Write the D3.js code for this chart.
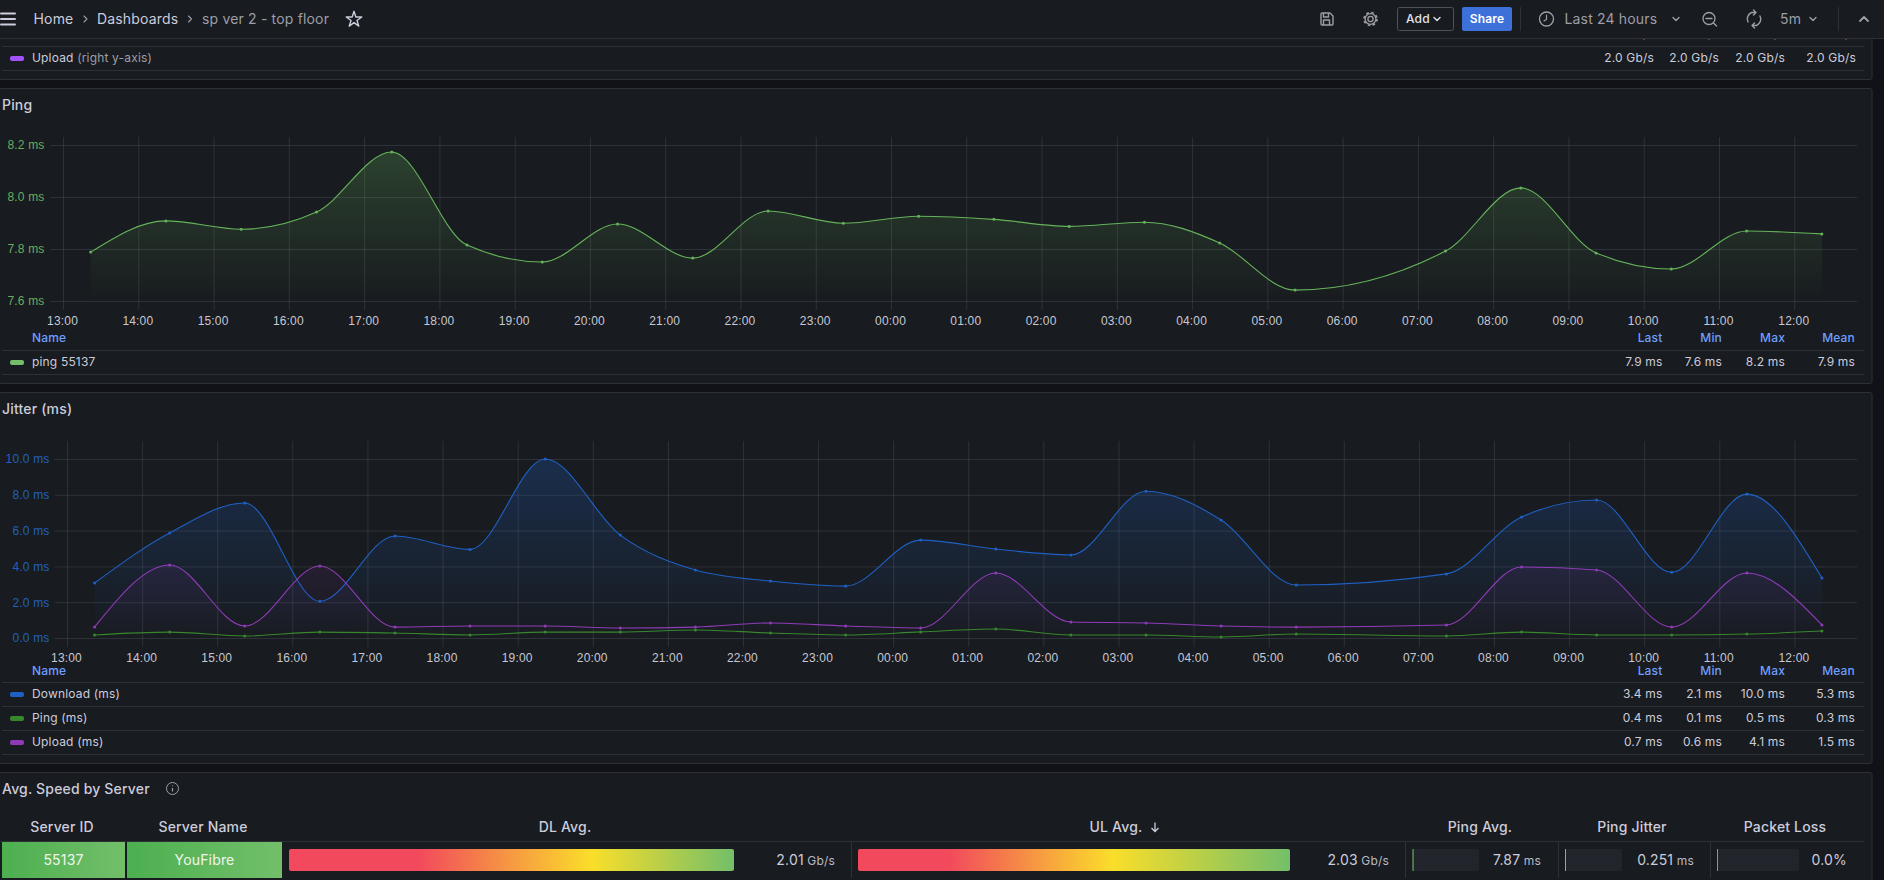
<!DOCTYPE html>
<html>
<head>
<meta charset="utf-8">
<title>sp ver 2 - top floor</title>
<script src="https://cdn.jsdelivr.net/npm/d3@7"></script>
<style>
  html, body { margin: 0; padding: 0; background: #111217; overflow: hidden; }
  svg { display: block; font-family: Inter, "Noto Sans", sans-serif; letter-spacing: 0.01071em; }
  text { fill: #ccccdc; font-size: 12px; }
  .domain { display: none; }
  .grid line { stroke: #ccccdc; stroke-opacity: 0.13; }
  .tick text { font-size: 12px; }
</style>
</head>
<body>
<script>
// sample times, 06:22 has no sample on either chart
const sampleTimes = ["13:22","14:22","15:22","16:22","17:22","18:22","19:22","20:22","21:22","22:22","23:22","00:22",
                     "01:22","02:22","03:22","04:22","05:22","06:22","07:22","08:22","09:22","10:22","11:22","12:22"];

const pingValues = [7.788,7.908,7.876,7.942,8.173,7.815,7.75,7.896,7.765,7.946,7.899,7.926,
                    7.914,7.887,7.903,7.823,7.642,null,7.792,8.035,7.785,7.723,7.869,7.858];

const jitterDownload = [3.07,5.87,7.54,2.05,5.70,4.95,10.0,5.75,3.80,3.18,2.90,5.47,
                        4.97,4.64,8.20,6.59,2.96,null,3.58,6.76,7.71,3.67,8.04,3.35];
const jitterPing = [0.17,0.33,0.11,0.33,0.28,0.17,0.33,0.33,0.45,0.28,0.17,0.34,
                    0.50,0.17,0.17,0.06,0.22,null,0.11,0.33,0.17,0.17,0.22,0.39];
const jitterUpload = [0.61,4.08,0.67,4.02,0.61,0.67,0.67,0.56,0.61,0.84,0.67,0.56,
                      3.63,0.89,0.84,0.67,0.61,null,0.73,3.97,3.80,0.61,3.63,0.73];

const pingTicks = [7.6,7.8,8.0,8.2];
const jitterTicks = [0,2,4,6,8,10];

const statNames = ["Last","Min","Max","Mean"];
const uploadStats = ["2.0 Gb/s","2.0 Gb/s","2.0 Gb/s","2.0 Gb/s"];
const pingStats = ["7.9 ms","7.6 ms","8.2 ms","7.9 ms"];
const jitterDownloadStats = ["3.4 ms","2.1 ms","10.0 ms","5.3 ms"];
const jitterPingStats = ["0.4 ms","0.1 ms","0.5 ms","0.3 ms"];
const jitterUploadStats = ["0.7 ms","0.6 ms","4.1 ms","1.5 ms"];

const tableServerId = "55137";
const tableServerName = "YouFibre";
const dlAvg = 2.01, ulAvg = 2.03, pingAvg = 7.87, pingJitter = 0.251, packetLoss = 0.0;

const width = 1884, height = 880;
const panelBg = "#181b1f";
const lineColor = "#2e3035";
const dimText = "#9d9ea8";
const headerBlue = "#6e9fff";

const svg = d3.select("body").append("svg").attr("width", width).attr("height", height);
const defs = svg.append("defs");

function toDate(label) {
  const [h, m] = label.split(":").map(Number);
  return new Date(2024, 0, h > 12 || (h === 12 && m >= 50) ? 1 : 2, h, m);
}
const domainStart = new Date(2024, 0, 1, 12, 50), domainEnd = new Date(2024, 0, 2, 12, 50);

function panel(y0, y1) {
  svg.append("rect").attr("x", -1).attr("y", y0 + 0.5).attr("width", 1873).attr("height", y1 - y0)
    .attr("rx", 2).attr("fill", panelBg).attr("stroke", lineColor);
}
function hline(x0, x1, y, color) {
  svg.append("line").attr("x1", x0).attr("x2", x1).attr("y1", y + 0.5).attr("y2", y + 0.5)
    .attr("stroke", color || lineColor);
}
function label(str, x, y, opts) {
  opts = opts || {};
  return svg.append("text").attr("x", x).attr("y", y).attr("dy", "0.35em").text(str)
    .attr("text-anchor", opts.anchor || "start")
    .style("font-size", (opts.size || 12) + "px")
    .style("font-weight", opts.weight || 400)
    .style("fill", opts.color || "#ccccdc");
}

const statX = [1662.5, 1722, 1785, 1855];

function legendHeader(y) {
  label("Name", 32, y, { color: headerBlue, weight: 500 });
  statNames.forEach((s, i) => label(s, statX[i], y, { anchor: "end", color: headerBlue, weight: 500 }));
}
function legendRow(y, name, color, stats, xs) {
  hline(2, 1864, y + 12);
  svg.append("rect").attr("x", 10).attr("y", y - 2).attr("width", 14).attr("height", 5).attr("rx", 2).attr("fill", color);
  const t = label(name, 32, y);
  (stats || []).forEach((s, i) => label(s, (xs || statX)[i], y, { anchor: "end" }));
  return t;
}

function timeChart(cfg) {
  const x = d3.scaleTime().domain([domainStart, domainEnd]).range([cfg.left, 1857]);
  const y = d3.scaleLinear().domain(cfg.domain).range(cfg.range);
  const g = svg.append("g");

  // vertical grid with the tick stub below the plot
  g.append("g").attr("class", "grid").attr("transform", `translate(0,${cfg.range[0]})`)
    .call(d3.axisBottom(x).ticks(d3.timeHour.every(1)).tickFormat(d3.timeFormat("%H:%M"))
      .tickSizeInner(9).tickSizeOuter(0).tickPadding(6))
    .call(a => a.selectAll(".tick line").attr("y1", cfg.top - cfg.range[0]))
    .call(a => a.selectAll("text").attr("dx", -1).style("fill", "#c7c8d4"));

  g.append("g").attr("class", "grid").attr("transform", `translate(${cfg.left},0)`)
    .call(d3.axisLeft(y).tickValues(cfg.ticks).tickFormat(d => d3.format(".1f")(d) + " ms")
      .tickSizeInner(-(1857 - cfg.left)).tickSizeOuter(0).tickPadding(cfg.tickPad))
    .call(a => a.selectAll("text").style("fill", cfg.tickColor));

  cfg.series.forEach((s, i) => {
    const pts = sampleTimes.map((t, k) => ({ t: toDate(t), v: s.values[k] })).filter(d => d.v !== null);
    const gradId = cfg.id + "-grad-" + i;
    const grad = defs.append("linearGradient").attr("id", gradId).attr("gradientUnits", "userSpaceOnUse")
      .attr("x1", 0).attr("x2", 0).attr("y1", cfg.top).attr("y2", cfg.range[0]);
    grad.append("stop").attr("offset", 0).attr("stop-color", s.color).attr("stop-opacity", s.fillTop);
    grad.append("stop").attr("offset", 1).attr("stop-color", s.color).attr("stop-opacity", 0);

    const area = d3.area().x(d => x(d.t)).y0(cfg.range[0]).y1(d => y(d.v)).curve(d3.curveMonotoneX);
    const line = d3.line().x(d => x(d.t)).y(d => y(d.v)).curve(d3.curveMonotoneX);

    g.append("path").datum(pts).attr("d", area).attr("fill", `url(#${gradId})`);
    g.append("path").datum(pts).attr("d", line).attr("fill", "none").attr("stroke", s.color).attr("stroke-width", 1.1);
    g.selectAll(null).data(pts).enter().append("circle")
      .attr("cx", d => x(d.t)).attr("cy", d => y(d.v)).attr("r", 1.5).attr("fill", s.color);
  });
}

// hidden legend row + Upload row of the panel scrolled under the nav bar
panel(-10, 79);
label("2.0 Gb/s", 1654, 34, { anchor: "end" });
label("2.0 Gb/s", 1719, 34, { anchor: "end" });
label("2.0 Gb/s", 1785, 34, { anchor: "end" });
label("2.0 Gb/s", 1856, 34, { anchor: "end" });
hline(2, 1864, 46);
legendRow(58, "Upload", "#a352ff", uploadStats, [1654, 1719, 1785, 1856])
  .append("tspan").text(" (right y-axis)").style("fill", dimText);

// Ping panel
panel(88, 383);
label("Ping", 2, 105.5, { size: 14, weight: 500 });
timeChart({
  id: "ping", left: 50.5, top: 137, domain: [7.6, 8.2], range: [301, 145], ticks: pingTicks, tickColor: "#68ad5f", tickPad: 6,
  series: [{ values: pingValues, color: "#65b35b", fillTop: 0.28 }]
});
legendHeader(338);
hline(2, 1864, 350);
legendRow(362, "ping 55137", "#73bf69", pingStats);

// Jitter panel
panel(392, 763);
label("Jitter (ms)", 2, 409, { size: 14, weight: 500 });
timeChart({
  id: "jitter", left: 54.5, top: 441, domain: [0, 10], range: [638, 459], ticks: jitterTicks, tickColor: "#2460bd", tickPad: 5,
  series: [
    { values: jitterDownload, color: "#1f60c4", fillTop: 0.3 },
    { values: jitterPing, color: "#37872d", fillTop: 0.3 },
    { values: jitterUpload, color: "#8f3bb8", fillTop: 0.3 }
  ]
});
legendHeader(671);
hline(2, 1864, 682);
legendRow(694, "Download (ms)", "#1f60c4", jitterDownloadStats);
legendRow(718, "Ping (ms)", "#37872d", jitterPingStats);
legendRow(742, "Upload (ms)", "#8f3bb8", jitterUploadStats);

// Avg. speed table
panel(772, 900);
label("Avg. Speed by Server", 2, 789, { size: 14, weight: 500 });
svg.append("circle").attr("cx", 172.5).attr("cy", 788.5).attr("r", 6).attr("fill", "none").attr("stroke", dimText);
svg.append("path").attr("d", "M172.5 785.5v0.8M172.5 788v3.5").attr("stroke", dimText).attr("stroke-width", 1.2);

[["Server ID", 62], ["Server Name", 203], ["DL Avg.", 565], ["UL Avg.", 1116], ["Ping Avg.", 1480], ["Ping Jitter", 1632], ["Packet Loss", 1785]]
  .forEach(h => label(h[0], h[1], 827, { anchor: "middle", size: 14, weight: 500 }));
svg.append("path").attr("d", "M1155 822.5v9M1151.5 828l3.5 3.5 3.5-3.5").attr("fill", "none").attr("stroke", "#ccccdc").attr("stroke-width", 1.3);
hline(0, 1864, 841);
[851, 1405, 1558, 1710].forEach(xp =>
  svg.append("line").attr("x1", xp + 0.5).attr("x2", xp + 0.5).attr("y1", 842).attr("y2", 878).attr("stroke", lineColor));

const cellGrad = defs.append("linearGradient").attr("id", "cell-grad");
cellGrad.append("stop").attr("offset", 0).attr("stop-color", "#4caf50");
cellGrad.append("stop").attr("offset", 1).attr("stop-color", "#73bf69");
[[2, 125, tableServerId], [127, 282, tableServerName]].forEach(c => {
  svg.append("rect").attr("x", c[0]).attr("y", 842).attr("width", c[1] - c[0]).attr("height", 36).attr("fill", "url(#cell-grad)");
  label(c[2], (c[0] + c[1]) / 2, 860.5, { anchor: "middle", size: 14, color: "#f0f6ee" });
});

function barGrad(id, redEnd, yellowAt) {
  const g = defs.append("linearGradient").attr("id", id);
  [[0, "#f2495c"], [redEnd, "#f2495c"], [yellowAt, "#fade2a"], [1, "#73bf69"]]
    .forEach(s => g.append("stop").attr("offset", s[0]).attr("stop-color", s[1]));
}
barGrad("dl-grad", 0.29, 0.68);
barGrad("ul-grad", 0.21, 0.59);

const dlScale = d3.scaleLinear().domain([0, dlAvg]).range([289, 734]);
const ulScale = d3.scaleLinear().domain([0, ulAvg]).range([858, 1290]);
[[dlScale, dlAvg, "dl-grad"], [ulScale, ulAvg, "ul-grad"]].forEach(b => {
  svg.append("rect").attr("x", b[0](0)).attr("y", 849).attr("width", b[0](b[1]) - b[0](0)).attr("height", 22)
    .attr("rx", 2).attr("fill", `url(#${b[2]})`);
});

function cellValue(val, unit, x) {
  const t = label(val, x, 860, { anchor: "end", size: 14 });
  if (unit) t.append("tspan").text(" " + unit).style("font-size", "12px").style("fill", "#b9bac6");
}
cellValue(d3.format(".2f")(dlAvg), "Gb/s", 835);
cellValue(d3.format(".2f")(ulAvg), "Gb/s", 1389);
cellValue(d3.format(".2f")(pingAvg), "ms", 1541);
cellValue(d3.format(".3f")(pingJitter), "ms", 1694);
cellValue(d3.format(".1f")(packetLoss) + "%", null, 1847);

// small gauges, the value only shows as the hairline on the left
[[pingAvg, 0, 500, 1412.5, 1479, "#73bf69"], [pingJitter, 0, 100, 1565, 1622, "#73bf69"], [packetLoss, 0, 100, 1717, 1799, "#8e8f98"]]
  .forEach(c => {
    const s = d3.scaleLinear().domain([c[1], c[2]]).range([c[3], c[4]]);
    svg.append("rect").attr("x", c[3]).attr("y", 849).attr("width", c[4] - c[3]).attr("height", 22).attr("rx", 2).attr("fill", "#22252b");
    svg.append("rect").attr("x", c[3]).attr("y", 849).attr("width", Math.max(1, s(c[0]) - c[3])).attr("height", 22).attr("fill", c[5]);
  });

// nav bar
const nav = svg.append("g");
nav.append("rect").attr("width", width).attr("height", 38).attr("fill", panelBg);
nav.append("line").attr("x1", 0).attr("x2", width).attr("y1", 38.5).attr("y2", 38.5).attr("stroke", lineColor);
function navText(str, x, opts) {
  opts = opts || {};
  nav.append("text").attr("x", x).attr("y", 19).attr("dy", "0.35em").text(str)
    .attr("text-anchor", opts.anchor || "start")
    .style("font-size", (opts.size || 14) + "px").style("font-weight", opts.weight || 400)
    .style("fill", opts.color || "#ccccdc");
}
function navIcon(d, color, sw) {
  return nav.append("path").attr("d", d).attr("fill", "none").attr("stroke", color || dimText).attr("stroke-width", sw || 1.4)
    .attr("stroke-linecap", "round").attr("stroke-linejoin", "round");
}
navIcon("M1 13.5H15M1 19H15M1 24.5H15", "#ccccdc", 2);
navText("Home", 33.5);
navIcon("M84 16l3 3-3 3", dimText, 1.1);
navText("Dashboards", 97);
navIcon("M188.5 16l3 3-3 3", dimText, 1.1);
navText("sp ver 2 - top floor", 202, { color: dimText });
nav.append("path").attr("d", d3.symbol(d3.symbolStar, 75)).attr("transform", "translate(354,19.5)")
  .attr("fill", "none").attr("stroke", "#ccccdc").attr("stroke-width", 1.4).attr("stroke-linejoin", "round");

navIcon("M1322 13h8l3 3v8a1 1 0 0 1-1 1h-10a1 1 0 0 1-1-1V14a1 1 0 0 1 1-1zM1323.5 13v4h5v-4M1323.5 25v-5h6v5");
nav.append("circle").attr("cx", 1370.5).attr("cy", 19).attr("r", 2.6).attr("fill", "none").attr("stroke", dimText).attr("stroke-width", 1.3);
nav.append("circle").attr("cx", 1370.5).attr("cy", 19).attr("r", 5.4).attr("fill", "none").attr("stroke", dimText).attr("stroke-width", 1.3);
nav.append("circle").attr("cx", 1370.5).attr("cy", 19).attr("r", 6.5).attr("fill", "none").attr("stroke", dimText).attr("stroke-width", 1.6).attr("stroke-dasharray", "2.6 2.5");

nav.append("rect").attr("x", 1397.5).attr("y", 7.5).attr("width", 56).attr("height", 23).attr("rx", 2).attr("fill", "none").attr("stroke", "#50525a");
navText("Add", 1406, { size: 12, weight: 500, color: "#e2e3ea" });
navIcon("M1434 17.5l3 3 3-3", "#e2e3ea");
nav.append("rect").attr("x", 1462).attr("y", 7).attr("width", 50).attr("height", 24).attr("rx", 2).attr("fill", "#3d71d9");
navText("Share", 1487, { size: 12, weight: 600, anchor: "middle", color: "#ffffff" });
nav.append("line").attr("x1", 1520.5).attr("x2", 1520.5).attr("y1", 7).attr("y2", 31).attr("stroke", lineColor);

nav.append("circle").attr("cx", 1546.5).attr("cy", 19).attr("r", 7).attr("fill", "none").attr("stroke", dimText).attr("stroke-width", 1.3);
navIcon("M1546.5 15v4.5l-2.5 1.5", dimText, 1.2);
navText("Last 24 hours", 1564.5, { color: dimText });
navIcon("M1673 17.5l3 3 3-3");
nav.append("circle").attr("cx", 1709).attr("cy", 18.5).attr("r", 6).attr("fill", "none").attr("stroke", dimText).attr("stroke-width", 1.3);
navIcon("M1706 18.5h6M1713.5 23l3 3");
navIcon("M1748 22a7 7 0 0 1 3.5-9.5h4.5M1760 16a7 7 0 0 1-3.5 9.5H1752M1753.5 10l2.5 2.5-2.5 2.5M1754.5 23l-2.5 2.5 2.5 2.5");
navText("5m", 1780, { color: dimText });
navIcon("M1810 17.5l3 3 3-3");
nav.append("line").attr("x1", 1838.5).attr("x2", 1838.5).attr("y1", 7).attr("y2", 31).attr("stroke", lineColor);
navIcon("M1860 21l4-4 4 4", dimText, 1.8);
</script>
</body>
</html>
